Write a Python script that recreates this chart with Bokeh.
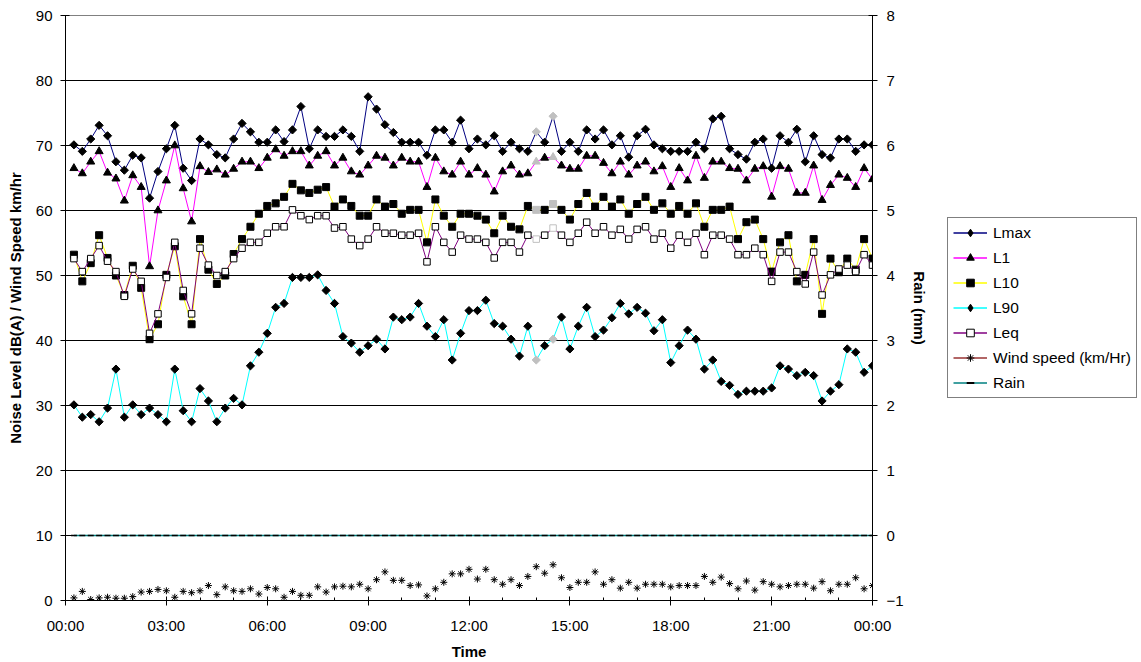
import numpy as np
from bokeh.plotting import figure
from bokeh.layouts import row
from bokeh.models import (Range1d, LinearAxis, FixedTicker, ColumnDataSource,
                          Legend, LegendItem)
from bokeh.embed import file_html
from bokeh.resources import INLINE

# ---------------- data (15-minute samples, 00:15 .. 24:00) ----------------
hours = np.arange(1, 97) * 0.25

lmax = [70.1, 69.1, 71.0, 73.1, 71.5, 67.5, 66.2, 68.5, 68.1, 61.9, 66.0, 69.5,
        73.1, 66.5, 64.6, 71.0, 70.1, 68.6, 68.1, 71.0, 73.4, 72.1, 70.5, 70.5,
        72.4, 70.6, 72.4, 76.0, 69.5, 72.4, 71.4, 71.4,
        72.4, 71.4, 69.1, 77.5, 75.6, 73.2, 72.0, 70.5, 70.5, 70.5, 68.5, 72.4,
        72.4, 70.5, 73.9, 69.5, 71.0, 70.1, 71.5, 69.1, 70.5, 69.5, 69.1, 72.1,
        70.5, 74.5, 69.1, 70.5, 69.1, 72.4, 71.0, 72.4,
        70.1, 71.5, 68.2, 71.5, 72.5, 70.1, 69.5, 69.1, 69.1, 69.1, 70.5, 69.5,
        74.1, 74.5, 69.5, 68.6, 67.9, 70.5, 71.0, 66.5, 71.5, 70.5, 72.5, 67.5,
        71.5, 68.6, 68.1, 71.0, 71.0, 69.1, 70.1, 70.1]

l1 = [66.5, 65.7, 67.5, 69.1, 65.8, 64.9, 61.5, 65.4, 63.6, 51.4, 60.0, 64.6,
      70.0, 63.4, 58.3, 66.8, 65.9, 66.3, 65.5, 66.4, 67.5, 67.5, 66.5, 68.1,
      69.4, 68.4, 69.1, 69.1, 66.9, 68.4, 69.1, 66.9,
      68.1, 66.0, 65.5, 66.9, 68.4, 68.1, 66.9, 68.1, 67.5, 67.5, 63.6, 68.1,
      66.0, 65.5, 67.5, 65.5, 66.5, 65.5, 62.9, 66.0, 66.9, 65.5, 65.7, 67.5,
      68.1, 68.2, 66.9, 66.4, 66.4, 68.4, 68.4, 67.3,
      65.7, 67.5, 65.5, 66.9, 67.5, 66.0, 66.8, 63.6, 66.5, 64.6, 68.4, 65.0,
      67.5, 67.5, 66.5, 66.4, 64.6, 66.4, 66.8, 62.1, 66.8, 66.4, 62.7, 62.7,
      66.9, 61.6, 63.9, 65.5, 65.0, 63.6, 66.5, 64.8]

l10 = [53.2, 49.1, 51.9, 56.2, 52.7, 50.0, 47.0, 51.5, 48.1, 40.2, 42.5, 50.1,
       54.5, 46.8, 42.5, 55.6, 50.9, 48.7, 50.0, 53.3, 55.6, 57.5, 59.5, 60.7,
       61.1, 62.1, 64.1, 63.1, 62.7, 63.2, 63.6, 60.6,
       61.7, 60.7, 59.2, 59.2, 61.7, 60.6, 61.0, 59.5, 60.1, 60.1, 55.1, 61.7,
       59.2, 57.5, 59.5, 59.5, 59.2, 58.6, 56.5, 59.2, 57.5, 57.1, 60.7, 60.1,
       60.1, 61.0, 60.1, 58.6, 61.0, 62.7, 60.6, 62.1,
       60.6, 61.7, 59.5, 61.0, 62.1, 60.1, 61.1, 59.5, 60.7, 59.5, 61.1, 57.5,
       60.1, 60.1, 60.6, 55.6, 58.2, 58.6, 55.6, 50.6, 55.1, 56.2, 49.1, 50.1,
       55.6, 44.1, 52.6, 50.5, 52.6, 50.9, 55.6, 52.6]

l90 = [30.1, 28.2, 28.6, 27.5, 29.6, 35.6, 28.2, 30.1, 28.6, 29.6, 28.6, 27.5,
       35.6, 29.2, 27.5, 32.6, 30.7, 27.5, 29.6, 31.1, 30.1, 36.1, 38.2, 41.1,
       45.1, 45.7, 49.7, 49.7, 49.7, 50.1, 47.7, 45.7,
       40.6, 39.6, 38.2, 39.2, 40.2, 38.7, 43.6, 43.2, 43.6, 45.7, 42.2, 40.6,
       43.2, 37.0, 41.1, 44.6, 44.6, 46.2, 42.6, 42.2, 40.2, 37.6, 42.2, 37.0,
       39.2, 40.2, 43.6, 38.7, 42.2, 45.1, 40.6, 41.6,
       43.5, 45.7, 44.1, 45.1, 44.2, 41.5, 43.2, 36.6, 39.2, 41.6, 40.2, 35.6,
       37.0, 33.7, 33.1, 31.7, 32.2, 32.2, 32.2, 32.7, 36.1, 35.6, 34.6, 35.1,
       34.6, 30.7, 32.2, 33.2, 38.7, 38.2, 35.1, 36.1]

leq = [52.6, 50.6, 52.6, 54.6, 52.2, 50.6, 46.8, 51.0, 49.1, 41.1, 44.1, 49.7,
       55.1, 47.7, 44.1, 54.2, 51.6, 50.0, 50.6, 52.6, 54.2, 55.1, 55.1, 56.5,
       57.5, 57.5, 60.1, 59.2, 58.6, 59.2, 59.2, 57.3,
       57.5, 55.6, 54.6, 55.6, 57.5, 56.5, 56.5, 56.2, 56.2, 56.5, 52.1, 57.5,
       55.1, 53.6, 56.2, 55.6, 55.6, 55.1, 52.7, 55.1, 55.1, 53.6, 56.2, 55.6,
       56.2, 57.3, 56.2, 55.1, 56.5, 58.2, 56.5, 57.5,
       56.2, 57.1, 55.6, 57.1, 57.5, 55.6, 56.5, 54.2, 56.2, 55.1, 56.5, 53.2,
       56.2, 56.2, 55.6, 53.2, 53.2, 54.2, 53.2, 49.1, 53.6, 53.6, 50.6, 48.7,
       53.6, 47.0, 50.1, 51.0, 51.6, 50.6, 53.2, 51.6]

wind = [0.4, 1.4, 0.15, 0.4, 0.5, 0.35, 0.35, 0.6, 1.3, 1.4, 1.7, 1.5,
        0.5, 1.4, 1.2, 1.5, 2.3, 0.9, 2.1, 1.5, 1.4, 1.8, 1.0, 2.0,
        1.8, 0.5, 1.4, 0.8, 0.8, 2.1, 1.3, 2.1, 2.2, 2.1, 2.5, 1.8,
        3.2, 4.4, 3.1, 3.1, 2.3, 2.4, 0.7, 1.8, 2.8, 4.1, 4.1, 4.8,
        3.3, 4.8, 3.2, 2.5, 3.2, 2.3, 3.7, 5.2, 4.2, 5.5, 3.5, 2.0,
        2.8, 2.8, 4.4, 2.5, 3.2, 1.9, 2.8, 1.9, 2.5, 2.5, 2.5, 2.1,
        2.3, 2.3, 2.3, 3.7, 2.8, 3.6, 2.6, 1.8, 3.0, 1.6, 2.9, 2.5,
        2.1, 2.3, 2.5, 2.5, 1.9, 2.9, 1.5, 2.5, 2.5, 3.5, 1.8, 2.3]

rain = [0.0] * 96

highlight_hours = [14.0, 14.5]   # points drawn in grey in the original

x_ticks = [0, 3, 6, 9, 12, 15, 18, 21, 24]
x_tick_labels = ["00:00", "03:00", "06:00", "09:00", "12:00", "15:00",
                 "18:00", "21:00", "00:00"]

series_names = ["Lmax", "L1", "L10", "L90", "Leq", "Wind speed (km/Hr)", "Rain"]
series_colors = ["#000080", "#FF00FF", "#FFFF00", "#00FFFF", "#800080",
                 "#993333", "#008080"]

# ---------------- styling ----------------
FONT = "Liberation Sans"
GREY = "#C0C0C0"
mk = ["#000000" if h not in highlight_hours else GREY for h in hours]

src = ColumnDataSource(dict(x=hours, lmax=lmax, l1=l1, l10=l10, l90=l90,
                            leq=leq, wind=wind, rain=rain, mk=mk))

p = figure(width=930, height=662, output_backend="svg", toolbar_location=None,
           x_range=Range1d(0, 24), y_range=Range1d(0, 90),
           min_border_left=65, min_border_right=55, min_border_top=15,
           min_border_bottom=62)
p.background_fill_color = "white"
p.border_fill_color = "white"
p.outline_line_color = "#808080"
p.extra_y_ranges = {"rain": Range1d(-1, 8)}

p.xgrid.visible = False
p.ygrid.ticker = FixedTicker(ticks=[10, 20, 30, 40, 50, 60, 70, 80])
p.ygrid.grid_line_color = "#000000"
p.ygrid.grid_line_width = 1

xa = p.xaxis[0]
xa.ticker = FixedTicker(ticks=x_ticks,
                        minor_ticks=[h for h in range(25) if h % 3 != 0])
xa.major_label_overrides = {t: s for t, s in zip(x_ticks, x_tick_labels)}
xa.axis_label = "Time"
xa.major_tick_in = 4
xa.major_tick_out = 5
xa.minor_tick_in = 3
xa.minor_tick_out = 0
xa.major_label_standoff = 11
xa.axis_label_standoff = 6

ya = p.yaxis[0]
ya.ticker = FixedTicker(ticks=list(range(0, 91, 10)))
ya.axis_label = "Noise Level dB(A) / Wind Speed km/hr"
ya.major_tick_in = 4
ya.major_tick_out = 5
ya.major_label_standoff = 8
ya.axis_label_standoff = 9

ra = LinearAxis(y_range_name="rain", axis_label="Rain (mm)",
                ticker=FixedTicker(ticks=list(range(-1, 9))))
ra.major_tick_in = 4
ra.major_tick_out = 5
ra.major_label_standoff = 9
ra.axis_label_standoff = 4
p.add_layout(ra, "right")

for ax in (xa, ya, ra):
    ax.axis_line_color = "#000000"
    ax.major_tick_line_color = "#000000"
    ax.minor_tick_line_color = "#000000" if ax is xa else None
    ax.major_label_text_font = FONT
    ax.major_label_text_font_size = "15px"
    ax.major_label_text_color = "#000000"
    ax.axis_label_text_font = FONT
    ax.axis_label_text_font_size = "15px"
    ax.axis_label_text_font_style = "bold"
    ax.axis_label_text_color = "#000000"

# ---------------- series ----------------
p.line("x", "lmax", source=src, line_color=series_colors[0], line_width=1)
p.scatter("x", "lmax", source=src, marker="square", angle=np.pi / 4,
          size=5.8, fill_color="mk", line_color="mk")

p.line("x", "l1", source=src, line_color=series_colors[1], line_width=1)
p.scatter("x", "l1", source=src, marker="triangle", size=8,
          fill_color="mk", line_color="mk")

p.line("x", "l10", source=src, line_color=series_colors[2], line_width=1)
p.scatter("x", "l10", source=src, marker="square", size=7,
          fill_color="mk", line_color="mk")

p.line("x", "l90", source=src, line_color=series_colors[3], line_width=1)
p.scatter("x", "l90", source=src, marker="square", angle=np.pi / 4,
          size=5.8, fill_color="mk", line_color="mk")

p.line("x", "leq", source=src, line_color=series_colors[4], line_width=1)
p.scatter("x", "leq", source=src, marker="square", size=6.5,
          fill_color="white", line_color="mk", line_width=1)

# wind speed: markers only (no connecting line in the original)
p.scatter("x", "wind", source=src, marker="asterisk", size=7,
          line_color="#000000", line_width=1)

p.line("x", "rain", source=src, y_range_name="rain",
       line_color=series_colors[6], line_width=1.5)
p.scatter("x", "rain", source=src, y_range_name="rain", marker="dash",
          size=6, line_color="#000000", line_width=1.6)

# ---------------- legend panel (separate figure to the right) ----------------
q = figure(width=211, height=662, output_backend="svg", toolbar_location=None,
           x_range=Range1d(0, 1), y_range=Range1d(0, 1),
           x_axis_type=None, y_axis_type=None,
           min_border_left=0, min_border_right=0, min_border_top=0,
           min_border_bottom=0)
q.outline_line_color = None
q.grid.visible = False
q.background_fill_color = "white"
q.border_fill_color = "white"

nan = np.array([np.nan])
legend_markers = [
    dict(marker="diamond", size=9, fill_color="#000000", line_color="#000000"),
    dict(marker="triangle", size=8, fill_color="#000000", line_color="#000000"),
    dict(marker="square", size=7, fill_color="#000000", line_color="#000000"),
    dict(marker="diamond", size=9, fill_color="#000000", line_color="#000000"),
    dict(marker="square", size=7, fill_color="white", line_color="#000000"),
    dict(marker="asterisk", size=7, line_color="#000000"),
    dict(marker="dash", size=7, line_color="#000000", line_width=2),
]
items = []
for name, col, mspec in zip(series_names, series_colors, legend_markers):
    lr = q.line(x=nan, y=nan, line_color=col, line_width=1.3)
    sr = q.scatter(x=nan, y=nan, **mspec)
    items.append(LegendItem(label=name, renderers=[lr, sr]))

legend = Legend(items=items, location=(17, 202))
legend.border_line_color = "#000000"
legend.border_line_width = 1
legend.background_fill_color = "white"
legend.background_fill_alpha = 1
legend.label_text_font = FONT
legend.label_text_font_size = "15.5px"
legend.label_text_color = "#000000"
legend.glyph_width = 34
legend.glyph_height = 19
legend.label_height = 19
legend.spacing = 6
legend.padding = 5
legend.margin = 0
legend.label_standoff = 6
q.add_layout(legend)

layout = row(p, q)
open("out.html", "w").write(file_html(layout, INLINE))
